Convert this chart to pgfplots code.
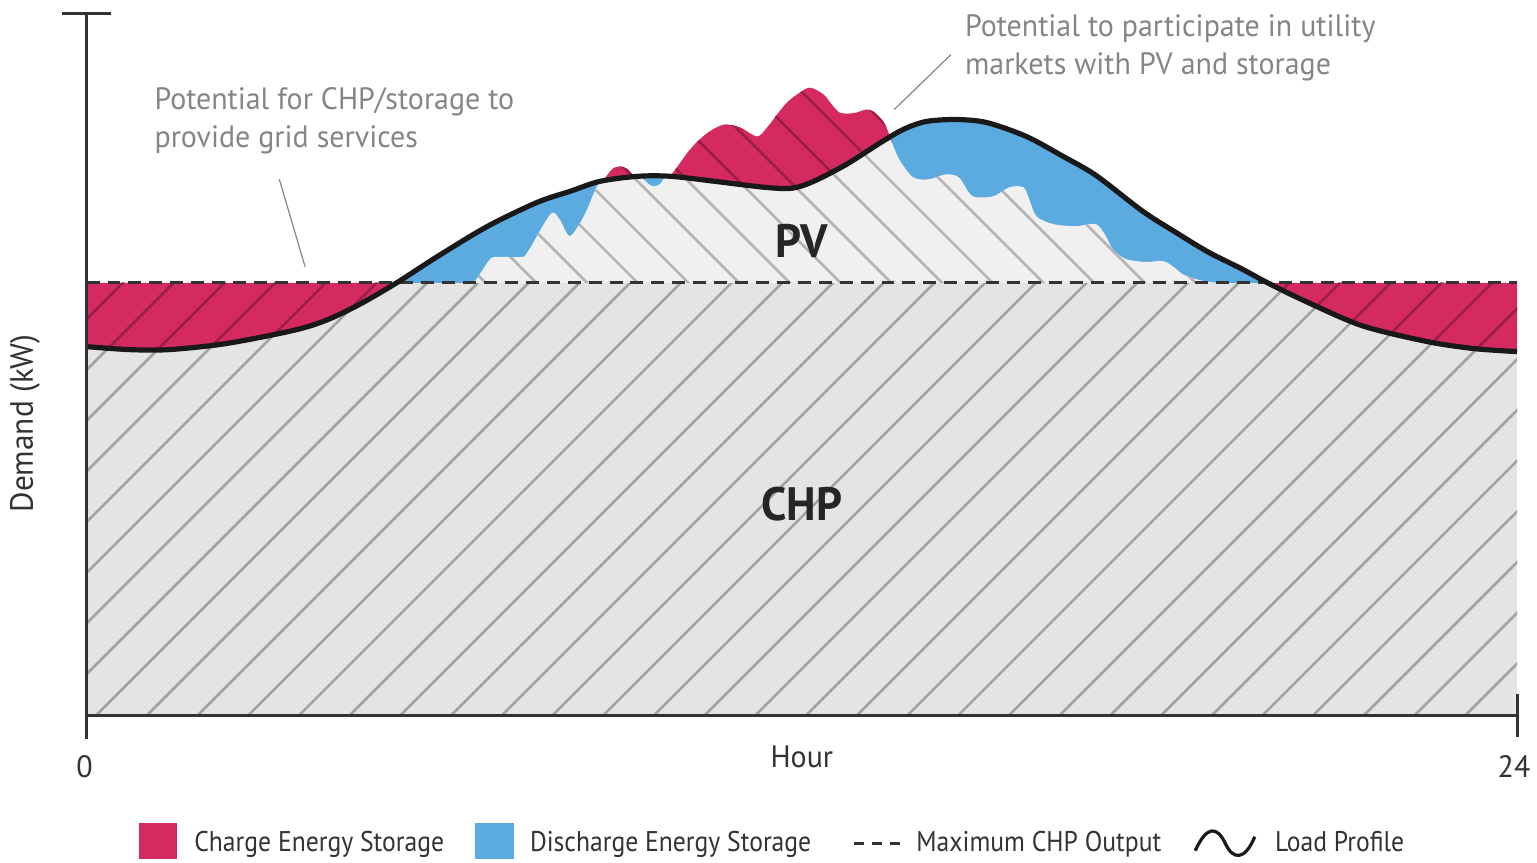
\documentclass[border=0pt]{standalone}
\usepackage{fontspec}
\setmainfont{PT Sans}[FakeStretch=0.97]
\newfontfamily\legfont{PT Sans}[FakeStretch=0.9]
\usepackage{pgfplots}
\pgfplotsset{compat=1.18}
\usepgfplotslibrary{fillbetween}
\usetikzlibrary{patterns.meta}
\definecolor{chg}{HTML}{D42A5F}
\definecolor{dis}{HTML}{5CABE0}
\definecolor{chpgray}{HTML}{E4E4E4}
\definecolor{pvgray}{HTML}{F0F0F0}
\definecolor{hatch}{HTML}{A2A2A2}
\definecolor{hatchpv}{HTML}{B4B4B4}
\definecolor{darkred}{HTML}{9A1E45}
\definecolor{txtgray}{HTML}{858585}
\definecolor{axiscol}{HTML}{333333}
\tikzset{
  hatchA/.style={pattern={Lines[angle=45,distance=18pt,line width=1.3pt]}},
  hatchB/.style={pattern={Lines[angle=-45,distance=18pt,line width=1.3pt]}},
}
\begin{document}
\begin{tikzpicture}
\begin{axis}[
  scale only axis, width=718pt, height=352pt,
  xmin=0, xmax=1440, ymin=0, ymax=704,
  axis line style={draw=none}, ticks=none, clip=false,
]
% named curves (x: minutes of day, y: demand units)
\addplot[draw=none, name path=base] coordinates {(0,0) (1440,0)};
\addplot[draw=none, name path=chp] coordinates {(0,434) (1440,434)};
\addplot[draw=none, smooth, name path=load] coordinates {
(0,370) (43,367) (83,367) (140,373) (207,386) (240,396) (274,412) (312,434) (354,461)
(404,491) (454,515) (487,526) (517,536) (555,541) (588,541) (632,536) (682,530)
(710,529) (732,536) (765,553) (798,574) (822,588) (845,596) (875,598) (906,595)
(946,581) (983,561) (1016,542) (1063,506) (1096,485) (1129,465) (1163,448) (1189,434)
(1226,416) (1284,391) (1350,375) (1397,368) (1440,365)};
% CHP area
\addplot[chpgray] fill between[of=chp and base];
\addplot[hatchA, pattern color=hatch] fill between[of=chp and base];
% charging with excess CHP
\addplot[chg] fill between[of=load and chp, soft clip={domain=0:312}];
\addplot[hatchA, pattern color=darkred] fill between[of=load and chp, soft clip={domain=0:312}];
\addplot[chg] fill between[of=load and chp, soft clip={domain=1189:1440}];
\addplot[hatchA, pattern color=darkred] fill between[of=load and chp, soft clip={domain=1189:1440}];
% discharging
\addplot[dis] fill between[of=load and chp, soft clip={domain=312:1189}];
% charging with excess PV
\addplot[draw=none, fill=chg, smooth, postaction={hatchB, pattern color=darkred}] coordinates {
(519,535) (524,542) (530,549) (537,551) (545,548) (550,542) (554,538)}
 -- (axis cs:554,434) -- (axis cs:519,434) -- cycle;
\addplot[draw=none, fill=chg, smooth, postaction={hatchB, pattern color=darkred}] coordinates {
(585,538) (595,551) (605,565) (615,576) (627,586) (642,593) (658,590) (675,581)
(685,590) (695,603) (705,615) (715,623) (728,630) (742,623) (751,612) (758,605)
(767,604) (775,605) (785,608) (792,606) (802,596) (808,583) (812,570)}
 -- (axis cs:812,434) -- (axis cs:585,434) -- cycle;
% PV
\addplot[draw=none, fill=pvgray, smooth, postaction={hatchB, pattern color=hatchpv}] coordinates {
(384,434) (391,436) (404,455) (411,460) (437,460) (444,465) (467,503) (476,498)
(486,481) (496,493) (504,508) (516,534) (534,538.5) (552,540.5) (558,540) (565,534)
(570,531) (577,533) (582,540) (588,541) (632,536) (682,530) (710,529) (732,536)
(765,553) (798,574) (808,579) (818,558) (832,540) (848,538) (865,543) (878,540)
(888,525) (895,520) (913,521) (929,530) (943,530) (949,518) (956,501) (973,493)
(996,491) (1016,493) (1026,481) (1033,468) (1046,458) (1066,455) (1083,456) (1093,451)
(1103,443) (1116,438) (1129,435) (1141,434)} -- cycle;
% lines
\addplot[axiscol, line width=1.5pt, dash pattern=on 6.5pt off 4pt] coordinates {(0,434) (1440,434)};
\addplot[black!90, line width=2.6pt, smooth] coordinates {
(0,370) (43,367) (83,367) (140,373) (207,386) (240,396) (274,412) (312,434) (354,461)
(404,491) (454,515) (487,526) (517,536) (555,541) (588,541) (632,536) (682,530)
(710,529) (732,536) (765,553) (798,574) (822,588) (845,596) (875,598) (906,595)
(946,581) (983,561) (1016,542) (1063,506) (1096,485) (1129,465) (1163,448) (1189,434)
(1226,416) (1284,391) (1350,375) (1397,368) (1440,365)};
% axes
\draw[axiscol, line width=1.5pt] (axis cs:0,-24) -- (axis cs:0,704);
\draw[axiscol, line width=1.5pt] (axis cs:-25,704) -- (axis cs:25,704);
\draw[axiscol, line width=1.5pt] (axis cs:0,0) -- (axis cs:1440,0);
\draw[axiscol, line width=1.5pt] (axis cs:1440,21) -- (axis cs:1440,-22);
% labels
\node[axiscol, font=\fontsize{15.5}{18}\selectfont] at (axis cs:-2,-52) {0};
\node[axiscol, font=\fontsize{15.5}{18}\selectfont] at (axis cs:1437,-52) {24};
\node[axiscol, font=\fontsize{15.5}{18}\selectfont] at (axis cs:720,-42) {Hour};
\node[axiscol, rotate=90, font=\fontsize{16.2}{18}\selectfont] at (axis cs:-62,293) {Demand (kW)};
\node[black!85, font=\fontsize{23.5}{26}\selectfont\bfseries] at (axis cs:720,476) {PV};
\node[black!85, font=\fontsize{23.5}{26}\selectfont\bfseries] at (axis cs:720,212) {CHP};
% annotations
\node[txtgray, anchor=base west, inner sep=0, font=\fontsize{15.5}{18}\selectfont] at (axis cs:68,608) {Potential for CHP/storage to};
\node[txtgray, anchor=base west, inner sep=0, font=\fontsize{15.5}{18}\selectfont] at (axis cs:68,570) {provide grid services};
\node[txtgray, anchor=base west, inner sep=0, font=\fontsize{15.5}{18}\selectfont] at (axis cs:884,681) {Potential to participate in utility};
\node[txtgray, anchor=base west, inner sep=0, font=\fontsize{15.5}{18}\selectfont] at (axis cs:884,643) {markets with PV and storage};
\draw[txtgray, line width=0.6pt] (axis cs:194,538) -- (axis cs:220,450);
\draw[txtgray, line width=0.6pt] (axis cs:870,663) -- (axis cs:813,608);
% legend
\fill[chg] (axis cs:53,-108) rectangle (axis cs:91,-144);
\node[axiscol, anchor=base west, inner sep=0, font=\fontsize{14.3}{17}\legfont] at (axis cs:108,-137) {Charge Energy Storage};
\fill[dis] (axis cs:391,-108) rectangle (axis cs:430,-144);
\node[axiscol, anchor=base west, inner sep=0, font=\fontsize{14.3}{17}\legfont] at (axis cs:446,-137) {Discharge Energy Storage};
\draw[axiscol, line width=1.2pt, dash pattern=on 5pt off 4pt] (axis cs:773,-129) -- (axis cs:820,-129);
\node[axiscol, anchor=base west, inner sep=0, font=\fontsize{14.3}{17}\legfont] at (axis cs:835,-137) {Maximum CHP Output};
\draw[black!90, line width=1.6pt] (axis cs:1116,-136) .. controls (axis cs:1128,-110) and (axis cs:1138,-112) .. (axis cs:1146,-128) .. controls (axis cs:1154,-146) and (axis cs:1166,-146) .. (axis cs:1176,-122);
\node[axiscol, anchor=base west, inner sep=0, font=\fontsize{14.3}{17}\legfont] at (axis cs:1196,-137) {Load Profile};
% page frame
\path (axis cs:-87.2,718) rectangle (axis cs:1454,-144);
\end{axis}
\end{tikzpicture}
\end{document}
